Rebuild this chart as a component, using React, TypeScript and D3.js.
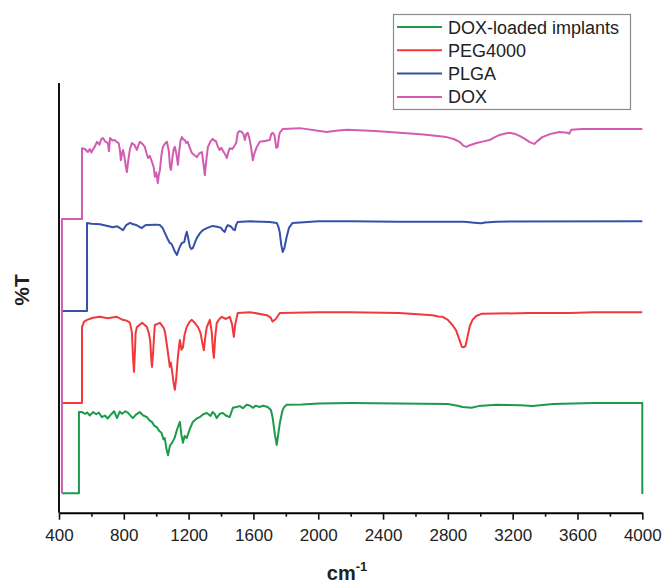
import React, { useEffect, useRef } from "react";
import * as d3 from "d3";

// FTIR spectra, [wavenumber cm-1, %T (offset, arbitrary units)]
const doxLoaded: [number, number][] = [
  [418, 4.4], [523, 4.4], [523, 23.4], [542, 23.4], [560, 23.0], [575, 23.3], [590, 22.6], [610, 23.4],
  [630, 22.9], [645, 23.3], [665, 22.2], [683, 22.6], [700, 21.9], [723, 22.9], [740, 23.6], [758, 22.0],
  [775, 23.5], [789, 23.0], [810, 23.6], [826, 23.2], [845, 22.4], [856, 22.0], [875, 22.8], [898, 23.4],
  [920, 22.6], [943, 22.2], [960, 21.4], [973, 21.1], [988, 20.2], [1003, 19.9], [1018, 19.0],
  [1033, 18.5], [1045, 17.0], [1053, 17.3], [1063, 14.8], [1073, 13.3], [1085, 15.6], [1098, 16.2],
  [1113, 17.3], [1130, 19.5], [1146, 21.1], [1156, 18.0], [1165, 16.2], [1175, 17.8], [1188, 17.3],
  [1208, 19.5], [1226, 21.1], [1250, 21.9], [1268, 22.2], [1290, 22.9], [1313, 23.2], [1335, 22.5],
  [1348, 23.4], [1360, 23.0], [1373, 22.0], [1392, 23.0], [1411, 23.2], [1430, 22.6], [1453, 22.2],
  [1473, 24.4], [1495, 24.6], [1516, 24.8], [1535, 24.3], [1558, 25.1], [1580, 24.9], [1596, 24.4],
  [1615, 24.9], [1638, 24.6], [1660, 24.9], [1688, 24.6], [1708, 23.9], [1718, 22.2], [1733, 18.0],
  [1744, 15.7], [1756, 19.0], [1763, 20.8], [1778, 23.6], [1788, 24.5], [1805, 25.1], [1900, 25.2],
  [2000, 25.4], [2200, 25.5], [2500, 25.4], [2800, 25.3], [2860, 24.9], [2890, 24.6], [2946, 24.4],
  [2990, 24.8], [3100, 25.1], [3250, 25.0], [3321, 24.8], [3450, 25.3], [3700, 25.5], [4000, 25.5],
  [4000, 4.2],
];

const peg4000: [number, number][] = [
  [418, 25.5], [542, 25.5], [542, 43.3], [555, 44.6], [573, 45.0], [610, 45.5], [653, 45.7], [700, 45.4],
  [758, 45.7], [793, 45.0], [820, 44.8], [838, 44.3], [850, 42.0], [857, 36.0], [863, 32.8], [869, 38.0],
  [873, 42.0], [881, 43.3], [913, 44.3], [943, 43.3], [955, 41.8], [963, 40.0], [970, 35.5], [974, 34.0],
  [981, 37.5], [988, 42.0], [992, 43.8], [1023, 44.3], [1045, 43.2], [1054, 42.2], [1070, 38.0],
  [1084, 34.0], [1090, 35.0], [1098, 33.0], [1108, 30.0], [1115, 28.6], [1124, 31.5], [1133, 36.0],
  [1140, 38.5], [1146, 40.3], [1156, 38.0], [1165, 38.6], [1175, 41.5], [1188, 43.3], [1205, 44.5],
  [1220, 45.0], [1240, 44.2], [1258, 43.3], [1273, 42.0], [1285, 39.5], [1294, 37.9], [1303, 41.0],
  [1312, 43.3], [1331, 45.0], [1343, 42.0], [1350, 38.0], [1356, 36.1], [1364, 41.0], [1374, 44.3],
  [1390, 45.2], [1405, 45.7], [1430, 45.2], [1454, 45.7], [1468, 44.0], [1479, 41.0], [1488, 44.0],
  [1503, 46.6], [1578, 46.8], [1683, 46.1], [1705, 45.6], [1718, 44.6], [1738, 45.2], [1763, 46.6],
  [2000, 46.8], [2200, 46.8], [2500, 46.6], [2705, 46.1], [2740, 45.8], [2768, 45.7], [2800, 45.0],
  [2828, 43.8], [2850, 42.6], [2872, 40.3], [2886, 38.7], [2896, 38.6], [2908, 38.8], [2921, 41.0],
  [2935, 43.5], [2952, 45.0], [2975, 45.9], [3008, 46.4], [3300, 46.6], [3550, 46.6], [3700, 46.8],
  [4000, 46.8],
];

const plga: [number, number][] = [
  [418, 47.1], [573, 47.1], [573, 67.7], [600, 67.5], [653, 67.4], [700, 67.0], [733, 66.7], [760, 66.9],
  [776, 66.5], [795, 66.0], [815, 67.2], [838, 67.7], [858, 67.4], [878, 67.2], [895, 66.8], [912, 66.5],
  [930, 67.1], [943, 67.2], [1000, 67.3], [1023, 67.2], [1040, 66.5], [1054, 65.3], [1070, 64.0],
  [1084, 63.0], [1094, 62.8], [1103, 62.1], [1115, 61.0], [1128, 60.2], [1142, 61.8], [1158, 63.0],
  [1173, 63.2], [1182, 64.8], [1189, 65.6], [1198, 64.0], [1208, 62.1], [1216, 61.6], [1226, 61.8],
  [1238, 63.0], [1251, 64.2], [1270, 65.3], [1288, 66.0], [1320, 66.6], [1349, 67.0], [1375, 66.8],
  [1398, 66.6], [1410, 66.0], [1423, 65.6], [1432, 66.6], [1442, 67.2], [1463, 66.8], [1475, 66.2],
  [1485, 66.0], [1494, 67.3], [1503, 67.9], [1578, 68.1], [1700, 67.9], [1744, 67.7], [1754, 66.8],
  [1762, 65.6], [1772, 62.5], [1781, 60.9], [1791, 61.8], [1805, 64.4], [1820, 66.6], [1842, 67.7],
  [2000, 68.1], [2200, 68.1], [2500, 68.0], [2900, 68.0], [2980, 67.7], [3007, 67.6], [3030, 67.8],
  [3100, 68.0], [4000, 68.1],
];

const dox: [number, number][] = [
  [418, 4.4], [418, 68.6], [542, 68.6], [542, 85.2], [560, 85.0], [578, 84.3], [590, 85.0], [600, 84.2],
  [608, 84.8], [620, 85.5], [635, 86.7], [650, 86.0], [660, 87.3], [671, 87.6], [685, 86.8], [702, 86.4],
  [708, 84.5], [715, 87.6], [730, 87.0], [745, 87.1], [758, 86.6], [768, 86.4], [775, 85.0], [782, 82.4],
  [789, 84.0], [795, 84.8], [805, 83.0], [812, 81.0], [819, 79.6], [828, 82.5], [838, 85.0], [850, 86.4],
  [865, 86.0], [874, 85.3], [881, 84.8], [890, 85.9], [900, 86.7], [915, 86.2], [930, 85.5], [940, 84.0],
  [949, 82.9], [960, 83.4], [974, 82.0], [984, 80.8], [992, 78.5], [1000, 79.5], [1006, 78.0],
  [1010, 77.0], [1016, 79.0], [1023, 80.1], [1032, 83.5], [1041, 85.5], [1052, 86.2], [1066, 86.7],
  [1078, 84.5], [1085, 81.0], [1091, 80.1], [1100, 83.0], [1108, 85.0], [1115, 85.5], [1124, 84.0],
  [1134, 81.3], [1142, 84.5], [1150, 87.0], [1158, 87.8], [1168, 87.2], [1177, 87.1], [1185, 86.4],
  [1195, 86.7], [1205, 85.5], [1220, 84.1], [1235, 83.6], [1251, 83.1], [1266, 84.0], [1282, 84.3],
  [1292, 81.5], [1300, 78.9], [1308, 82.0], [1319, 85.5], [1335, 86.8], [1349, 87.4], [1358, 87.0],
  [1368, 86.9], [1380, 85.6], [1392, 84.8], [1402, 85.3], [1413, 84.5], [1425, 83.8], [1436, 82.9],
  [1445, 84.3], [1454, 85.2], [1470, 85.0], [1485, 85.9], [1494, 86.5], [1503, 88.8], [1515, 89.2],
  [1528, 89.0], [1538, 88.5], [1547, 87.1], [1556, 88.5], [1565, 88.8], [1575, 87.5], [1585, 85.5],
  [1596, 82.4], [1606, 84.0], [1621, 85.5], [1639, 86.7], [1670, 86.9], [1701, 87.1], [1710, 88.5],
  [1719, 88.8], [1728, 88.4], [1733, 87.5], [1741, 85.3], [1750, 85.5], [1756, 87.5], [1762, 88.8],
  [1781, 89.7], [1886, 89.9], [2052, 89.0], [2110, 89.3], [2175, 89.5], [2350, 89.2], [2502, 88.8],
  [2650, 88.4], [2792, 87.8], [2840, 87.3], [2872, 86.7], [2895, 85.8], [2915, 85.5], [2935, 85.9],
  [2977, 86.4], [3020, 86.8], [3057, 87.1], [3090, 87.8], [3119, 88.3], [3150, 88.6], [3180, 88.8],
  [3210, 88.6], [3242, 88.1], [3275, 87.4], [3303, 86.7], [3320, 86.4], [3334, 86.2], [3350, 86.8],
  [3383, 87.8], [3430, 88.5], [3488, 89.0], [3537, 88.8], [3548, 88.6], [3562, 89.5], [3630, 89.7],
  [4000, 89.7],
];

const seriesNames = ["DOX-loaded implants", "PEG4000", "PLGA", "DOX"];
const seriesColors = ["#1c9a4c", "#f2383a", "#3550a8", "#d25cb0"];
const seriesData = [doxLoaded, peg4000, plga, dox];

const majorTicks = [400, 800, 1200, 1600, 2000, 2400, 2800, 3200, 3600, 4000];
const minorTicks = [600, 1000, 1400, 1800, 2200, 2600, 3000, 3400, 3800];

const W = 665;
const H = 584;
const left = 59;
const right = 642.3;
const top = 83;
const bottom = 512.7;

const font = "'Liberation Sans', Arial, sans-serif";

const App = () => {
  const axisRef = useRef<SVGGElement>(null);

  const x = d3.scaleLinear().domain([400, 4000]).range([left, right]);
  const y = d3.scaleLinear().domain([0, 100]).range([512, 85]);

  const line = d3
    .line<[number, number]>()
    .x((d) => x(d[0]))
    .y((d) => y(d[1]));

  useEffect(() => {
    const g = d3.select(axisRef.current);
    g.selectAll("*").remove();
    const minor = g.append("g").call(
      d3.axisBottom(x).tickValues(minorTicks).tickSize(4).tickSizeOuter(0).tickFormat(() => "")
    );
    minor.select(".domain").remove();
    const major = g.append("g").call(
      d3.axisBottom(x).tickValues(majorTicks).tickSize(7).tickSizeOuter(0).tickPadding(9).tickFormat(d3.format("d"))
    );
    major.select(".domain").attr("stroke-width", 2);
    g.selectAll(".tick line").attr("stroke", "#111").attr("stroke-width", 1.6);
    major
      .selectAll(".tick text")
      .attr("font-family", font)
      .attr("font-size", 17)
      .attr("fill", "#222");
  }, []);

  return (
    <svg
      width={W}
      height={H}
      style={{ position: "absolute", left: 0, top: 0, background: "#fff" }}
    >
      {seriesData.map((d, i) => (
        <path
          key={seriesNames[i]}
          d={line(d) || ""}
          fill="none"
          stroke={seriesColors[i]}
          strokeWidth={2}
          strokeLinejoin="round"
        />
      ))}

      <line x1={left} x2={left} y1={top} y2={bottom} stroke="#111" strokeWidth={2} />
      <g ref={axisRef} transform={`translate(0,${bottom})`} />

      <text
        transform={`translate(29,290) rotate(-90)`}
        textAnchor="middle"
        fontFamily={font}
        fontWeight="bold"
        fontSize={21}
        fill="#222"
      >
        %T
      </text>
      <text x={347} y={580} textAnchor="middle" fontFamily={font} fontWeight="bold" fontSize={20} fill="#222">
        cm<tspan dy={-9} fontSize={13}>-1</tspan>
      </text>

      <g>
        <rect x={393.5} y={14.5} width={237} height={95} fill="#fff" stroke="#8a8a8a" strokeWidth={1.2} />
        {seriesNames.map((name, i) => {
          const ry = 27 + i * 23.3;
          return (
            <g key={name}>
              <line x1={397} x2={442} y1={ry} y2={ry} stroke={seriesColors[i]} strokeWidth={2} />
              <text x={448} y={ry + 6.5} fontFamily={font} fontSize={18} fill="#222">
                {name}
              </text>
            </g>
          );
        })}
      </g>
    </svg>
  );
};

export default App;
